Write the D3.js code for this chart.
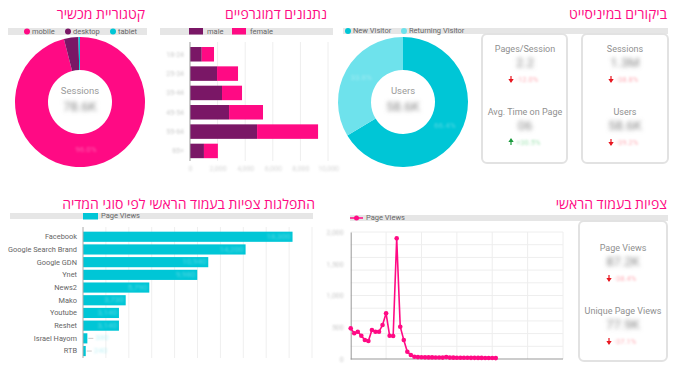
<!DOCTYPE html>
<html>
<head>
<meta charset="utf-8">
<script src="https://d3js.org/d3.v7.min.js"></script>
<style>
  body { margin: 0; background: #fff; }
  text { font-family: Roboto, "Open Sans", "DejaVu Sans", sans-serif; }
  .title { font-family: "Open Sans", "DejaVu Sans", sans-serif; }
</style>
</head>
<body>
<svg id="chart" width="677" height="372"></svg>
<script>
// colours
const pink = "#ff0a84";
const purple = "#7a1766";
const cyan = "#00c6d6";
const cyanLight = "#6ee2ec";
const bandGray = "#e6e6e6";

// device category donut
const deviceCats = ["mobile", "desktop", "tablet"];
const deviceSessions = [75480, 2820, 300];

// visitor type donut
const visitorCats = ["New Visitor", "Returning Visitor"];
const visitorUsers = [38900, 19700];

// demographics
const ageGroups = ["18-24", "25-34", "35-44", "45-54", "55-64", "65+"];
const maleViews = [850, 1960, 2320, 2830, 4860, 1010];
const femaleViews = [890, 1520, 1450, 2460, 4420, 1010];
const demoTicks = [0, 2000, 4000, 6000, 8000, 10000];

// page views by media
const mediaSources = ["Facebook", "Google Search Brand", "Google GDN", "Ynet", "News2",
  "Mako", "Youtube", "Reshet", "Israel Hayom", "RTB"];
const mediaPageViews = [18300, 14200, 10940, 9980, 5790, 3730, 3140, 3140, 380, 240];
const mediaTicks = [0, 2000, 4000, 6000, 8000, 10000, 12000, 14000, 16000, 18000, 20000];

// daily page views on main page
const dailyPageViews = [483, 405, 430, 367, 299, 283, 457, 430, 430, 535,
  720, 367, 362, 1900, 509, 299, 115, 63, 36, 30,
  28, 26, 25, 25, 24, 23, 22, 30, 22, 21,
  20, 20, 19, 19, 18, 18, 17, 17, 16, 15,
  15, 14];
const lineYTicks = [0, 500, 1000, 1500, 2000];

// scorecards
const kpiLabels = ["Pages/Session", "Avg. Time on Page", "Sessions", "Users"];
const kpiValues = ["2.2", "06", "1.3M", "58.6K"];
const kpiChanges = ["-12.0%", "+30.5%", "-38.8%", "-39.2%"];
const pvLabels = ["Page Views", "Unique Page Views"];
const pvValues = ["87.2K", "77.9K"];
const pvChanges = ["-38.4%", "-37.1%"];

const svg = d3.select("#chart");
const defs = svg.append("defs");
[["blur", 1.6], ["blurBig", 2.2], ["blurSmall", 1.3]].forEach(([id, s]) => {
  defs.append("filter").attr("id", id)
    .attr("x", "-50%").attr("y", "-80%").attr("width", "200%").attr("height", "260%")
    .append("feGaussianBlur").attr("stdDeviation", s);
});

const title = (x, y, txt) => svg.append("text").attr("class", "title")
  .attr("x", x).attr("y", y).attr("text-anchor", "end")
  .attr("font-size", 14).attr("fill", pink).text(txt);

const band = (x1, x2, y, h) => svg.append("rect")
  .attr("x", x1).attr("y", y).attr("width", x2 - x1).attr("height", h).attr("fill", bandGray);

const legendText = (x, y, txt) => svg.append("text").attr("x", x).attr("y", y)
  .attr("font-size", 7.5).attr("fill", "#666").attr("dominant-baseline", "middle").text(txt);

// faint blurred text (numbers hidden in the reference)
const blurText = (sel, color, opacity) => sel.attr("fill", color).attr("opacity", opacity)
  .attr("filter", "url(#blurSmall)");

// ---------- titles ----------
title(145, 19, "קטגוריית מכשיר");
title(327, 19, "נתנונים דמוגרפיים");
title(667, 19, "ביקורים במיניסייט");
title(315, 209, "התפלגות צפיות בעמוד הראשי לפי סוגי המדיה");
title(667, 209, "צפיות בעמוד הראשי");

// ---------- donuts ----------
const drawDonut = (cx, cy, cats, values, colors, centerLabel, centerValue) => {
  const total = d3.sum(values);
  const pie = d3.pie().sort(null).value((d) => d)(values);
  const arc = d3.arc().innerRadius(32).outerRadius(65);
  const labelArc = d3.arc().innerRadius(48).outerRadius(48);
  const g = svg.append("g").attr("transform", `translate(${cx},${cy})`);
  g.selectAll("path").data(pie).enter().append("path")
    .attr("d", arc).attr("fill", (d, i) => colors[i]);
  const lbl = g.selectAll(".lbl").data(pie.filter((d) => d.value / total > 0.05)).enter()
    .append("text").attr("class", "lbl")
    .attr("transform", (d) => `translate(${labelArc.centroid(d)})`)
    .attr("text-anchor", "middle").attr("dominant-baseline", "middle")
    .attr("font-size", 8)
    .text((d) => d3.format(".1%")(d.value / total));
  blurText(lbl, "#fff", 0.3);
  g.append("text").attr("y", -8).attr("text-anchor", "middle")
    .attr("font-size", 9.5).attr("fill", "#9a9a9a").text(centerLabel);
  g.append("text").attr("y", 9).attr("text-anchor", "middle")
    .attr("font-size", 13).attr("fill", "#888").attr("filter", "url(#blurBig)")
    .text(centerValue);
};

// device legend
band(8, 147, 28, 7);
const devColors = [pink, purple, cyan];
const devLegX = [27, 68, 113];
deviceCats.forEach((c, i) => {
  svg.append("circle").attr("cx", devLegX[i]).attr("cy", 31.5).attr("r", 3).attr("fill", devColors[i]);
  legendText(devLegX[i] + 5, 31.8, c);
});
drawDonut(80, 102, deviceCats, deviceSessions, devColors, "Sessions", d3.format(".3s")(d3.sum(deviceSessions)).replace("k", "K"));

// visitor legend
band(343, 668, 28, 6);
const visColors = [cyan, cyanLight];
const visLegX = [348, 404];
visitorCats.forEach((c, i) => {
  svg.append("circle").attr("cx", visLegX[i]).attr("cy", 31).attr("r", 3).attr("fill", visColors[i]);
  legendText(visLegX[i] + 5, 31.3, c);
});
drawDonut(403, 102, visitorCats, visitorUsers, visColors, "Users", d3.format(".3s")(d3.sum(visitorUsers)).replace("k", "K"));

// ---------- demographics ----------
band(160, 333, 28, 7);
[["male", purple, 189], ["female", pink, 232]].forEach(([t, c, x]) => {
  svg.append("rect").attr("x", x).attr("y", 28).attr("width", 14).attr("height", 6.5).attr("fill", c);
  legendText(x + 18, 31.8, t);
});

const dx = d3.scaleLinear().domain([0, 10000]).range([190, 328]);
const dy = d3.scaleBand().domain(ageGroups).range([44.6, 160.6]).paddingInner(0.25).paddingOuter(0.125);

svg.append("g").selectAll("line").data(demoTicks.slice(1)).enter().append("line")
  .attr("x1", (d) => dx(d)).attr("x2", (d) => dx(d)).attr("y1", 42).attr("y2", 161)
  .attr("stroke", "#eeeeee");
svg.append("g").selectAll("rect").data(ageGroups).enter().append("rect")
  .attr("x", dx(0)).attr("y", (d) => dy(d)).attr("height", dy.bandwidth())
  .attr("width", (d, i) => dx(maleViews[i]) - dx(0)).attr("fill", purple);
svg.append("g").selectAll("rect").data(ageGroups).enter().append("rect")
  .attr("x", (d, i) => dx(maleViews[i])).attr("y", (d) => dy(d)).attr("height", dy.bandwidth())
  .attr("width", (d, i) => dx(maleViews[i] + femaleViews[i]) - dx(maleViews[i])).attr("fill", pink);

const demoYAxis = svg.append("g").attr("transform", `translate(${dx(0)},0)`)
  .call(d3.axisLeft(dy).tickSize(0).tickPadding(6));
demoYAxis.select(".domain").attr("stroke", "#999").attr("d", "M0,42V161");
blurText(demoYAxis.selectAll("text").attr("font-size", 7), "#999", 0.55);
const demoXAxis = svg.append("g").attr("transform", "translate(0,161)")
  .call(d3.axisBottom(dx).tickValues(demoTicks).tickSize(0).tickPadding(5).tickFormat(d3.format(",")));
demoXAxis.select(".domain").remove();
blurText(demoXAxis.selectAll("text").attr("font-size", 7), "#aaa", 0.5);

// ---------- scorecards ----------
const arrow = (x, y, color, up) => {
  const p = up
    ? `M${x},${y + 3}V${y - 1}M${x - 1.6},${y - 0.5}L${x},${y - 3}L${x + 1.6},${y - 0.5}Z`
    : `M${x},${y - 3}V${y + 1}M${x - 1.6},${y + 0.5}L${x},${y + 3}L${x + 1.6},${y + 0.5}Z`;
  svg.append("path").attr("d", p).attr("stroke", color).attr("stroke-width", 1.2).attr("fill", color);
};
const card = (x, y, w, h) => svg.append("rect").attr("x", x).attr("y", y).attr("width", w).attr("height", h)
  .attr("rx", 5).attr("fill", "#fff").attr("stroke", "#e2e2e2").attr("stroke-width", 2);
const metric = (cx, y, label, value, change) => {
  const up = change.startsWith("+");
  svg.append("text").attr("x", cx).attr("y", y).attr("text-anchor", "middle")
    .attr("font-size", 9).attr("fill", "#8f8f8f").text(label);
  svg.append("text").attr("x", cx).attr("y", y + 15).attr("text-anchor", "middle")
    .attr("font-size", 13).attr("fill", "#888").attr("filter", "url(#blurBig)").text(value);
  arrow(cx - 14, y + 27, up ? "#1a9a3c" : "#e8141e", up);
  blurText(svg.append("text").attr("x", cx - 9).attr("y", y + 30).attr("font-size", 7.5).text(change),
    up ? "#5fd07e" : "#ff6b7b", 0.55);
};
card(482, 34, 85, 129);
card(582, 34, 86, 129);
metric(525, 52, kpiLabels[0], kpiValues[0], kpiChanges[0]);
metric(525, 115, kpiLabels[1], kpiValues[1], kpiChanges[1]);
metric(625, 52, kpiLabels[2], kpiValues[2], kpiChanges[2]);
metric(625, 115, kpiLabels[3], kpiValues[3], kpiChanges[3]);

// ---------- media bars ----------
band(10, 313, 213, 6);
svg.append("rect").attr("x", 83).attr("y", 213).attr("width", 15).attr("height", 6.5).attr("fill", cyan);
legendText(101, 216.5, "Page Views");

const mx = d3.scaleLinear().domain([0, 20000]).range([83, 312]);
const my = d3.scaleBand().domain(mediaSources).range([230.4, 357.4]).paddingInner(0.2).paddingOuter(0.1);
svg.append("g").selectAll("line").data(mediaTicks.slice(1)).enter().append("line")
  .attr("x1", (d) => mx(d)).attr("x2", (d) => mx(d)).attr("y1", 227).attr("y2", 358)
  .attr("stroke", "#efefef");
svg.append("g").selectAll("rect").data(mediaSources).enter().append("rect")
  .attr("x", mx(0)).attr("y", (d) => my(d)).attr("height", my.bandwidth())
  .attr("width", (d, i) => mx(mediaPageViews[i]) - mx(0)).attr("fill", cyan);
// value labels
mediaSources.forEach((s, i) => {
  const xe = mx(mediaPageViews[i]);
  const yc = my(s) + my.bandwidth() / 2;
  if (xe - mx(0) > 30) {
    blurText(svg.append("text").attr("x", xe - 2).attr("y", yc).attr("text-anchor", "end")
      .attr("dominant-baseline", "middle").attr("font-size", 8)
      .text(d3.format(",")(mediaPageViews[i])), "#fff", 0.3);
  } else {
    svg.append("line").attr("x1", xe + 1).attr("x2", xe + 6).attr("y1", yc).attr("y2", yc)
      .attr("stroke", "#bbb").attr("stroke-width", 0.8);
    blurText(svg.append("text").attr("x", xe + 8).attr("y", yc).attr("dominant-baseline", "middle")
      .attr("font-size", 8).text(d3.format(",")(mediaPageViews[i])), cyanLight, 0.4);
  }
});
const mediaAxis = svg.append("g").attr("transform", `translate(${mx(0)},0)`)
  .call(d3.axisLeft(my).tickSize(0).tickPadding(6));
mediaAxis.select(".domain").attr("stroke", "#aaa").attr("d", "M0,227V358");
mediaAxis.selectAll("text").attr("font-size", 7.4).attr("fill", "#666");

// ---------- line chart ----------
band(350, 668, 215, 6);
svg.append("line").attr("x1", 350).attr("x2", 363).attr("y1", 218).attr("y2", 218)
  .attr("stroke", pink).attr("stroke-width", 1.5);
svg.append("circle").attr("cx", 356.5).attr("cy", 218).attr("r", 2.5).attr("fill", pink);
legendText(366, 218.3, "Page Views");

const lx = d3.scaleLinear().domain([0, 60]).range([350.7, 563]);
const ly = d3.scaleLinear().domain([0, 2000]).range([359, 232]);
svg.append("g").selectAll("line").data(ly.ticks(8).slice(1)).enter().append("line")
  .attr("x1", lx(0)).attr("x2", lx(60)).attr("y1", (d) => ly(d)).attr("y2", (d) => ly(d))
  .attr("stroke", "#eeeeee");
svg.append("g").selectAll("line").data(lx.ticks(6).slice(1)).enter().append("line")
  .attr("x1", (d) => lx(d)).attr("x2", (d) => lx(d)).attr("y1", ly(2000)).attr("y2", ly(0))
  .attr("stroke", "#eeeeee");
const lyAxis = svg.append("g").attr("transform", `translate(${lx(0)},0)`)
  .call(d3.axisLeft(ly).tickValues(lineYTicks).tickSize(0).tickPadding(7).tickFormat(d3.format(",")));
lyAxis.select(".domain").attr("stroke", "#999");
blurText(lyAxis.selectAll("text").attr("font-size", 7), "#999", 0.55);
svg.append("line").attr("x1", lx(0)).attr("x2", lx(60)).attr("y1", ly(0)).attr("y2", ly(0))
  .attr("stroke", "#999");

const line = d3.line().x((d, i) => lx(i)).y((d) => ly(d));
svg.append("path").datum(dailyPageViews).attr("d", line)
  .attr("fill", "none").attr("stroke", pink).attr("stroke-width", 1.6);
svg.append("g").selectAll("circle").data(dailyPageViews).enter().append("circle")
  .attr("cx", (d, i) => lx(i)).attr("cy", (d) => ly(d)).attr("r", 2.3).attr("fill", pink);

// ---------- page view cards ----------
card(579, 221, 88, 140);
metric(623, 251, pvLabels[0], pvValues[0], pvChanges[0]);
metric(623, 314, pvLabels[1], pvValues[1], pvChanges[1]);
</script>
</body>
</html>
